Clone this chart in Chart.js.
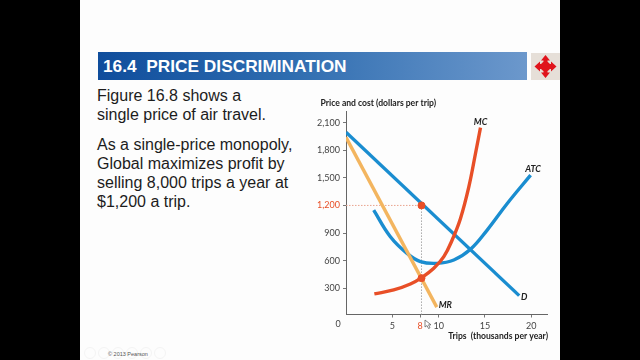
<!DOCTYPE html>
<html><head><meta charset="utf-8">
<script src="https://cdn.jsdelivr.net/npm/chart.js@4"></script>
<style>
html,body{margin:0;padding:0;background:#000;width:640px;height:360px;overflow:hidden}
#slide{position:absolute;left:80px;top:0;width:480px;height:360px;background:#fdfdfd}
#bar{position:absolute;left:98px;top:52px;width:429px;height:28px;background:linear-gradient(90deg,#0f4d9c 0%,#2f6db0 45%,#6c98cc 100%);color:#fff;font:bold 17.3px "Liberation Sans",Arial,sans-serif;line-height:29px;text-indent:5px}
.t{position:absolute;left:97px;font:16px/19px "Liberation Sans",Arial,sans-serif;color:#1c1c1c;white-space:pre}
#foot{position:absolute;left:108px;top:351px;font:5.5px "Liberation Sans",Arial,sans-serif;color:#555}
canvas{position:absolute;left:0;top:0}
svg{position:absolute}
</style></head>
<body>
<div id="slide"></div>
<svg style="left:84px;top:344px" width="90" height="16" viewBox="0 0 90 16" fill="none" stroke="#f4f4f4">
<circle cx="6" cy="9" r="5.500"/><circle cx="20" cy="9" r="5.500"/><circle cx="34" cy="9" r="5.500"/><circle cx="48" cy="9" r="5.500"/><circle cx="62" cy="9" r="5.500"/><circle cx="76" cy="9" r="5.500"/>
</svg>
<div id="bar">16.4&nbsp; PRICE DISCRIMINATION</div>
<div class="t" style="top:86px">Figure 16.8 shows a
single price of air travel.</div>
<div class="t" style="top:135px">As a single-price monopoly,
Global maximizes profit by
selling 8,000 trips a year at
$1,200 a trip.</div>
<div id="foot">© 2013 Pearson</div>
<svg style="left:531px;top:53px" width="29" height="27" viewBox="0 0 29 27">
<rect width="29" height="27" fill="#e6dfd8"/>
<circle cx="14.500" cy="13.500" r="5" fill="#e0141c"/>
<path d="M14.500 2l4.500 5.500h-2.500v3.500h3.500V8.500l5.500 5-5.500 5V16h-3.500v3.500H19L14.500 25 10 19.500h2.500V16H9v2.500l-5.500-5L9 8.500V11h3.500V7.500H10z" fill="#e0141c"/>
</svg>
<canvas id="c" width="640" height="360"></canvas>
<svg style="left:424px;top:319px" width="8" height="10" viewBox="0 0 8 10"><path d="M1 1v7l2-1.500 1.500 3 1.500-.7-1.500-3H7z" fill="#fff" stroke="#666" stroke-width=".8"/></svg>
<script>
const xTicks=[5,8,10,15,20];
const yTicks=[300,600,900,1200,1500,1800,2100];
const demandX=[0,18.7];
const demandY=[1995,220];
const mrX=[0,9.8];
const mrY=[1940,95];
const mcX=[3.06,5.15,6.95,8.18,9.48,10.56,11.46,12.36,13.26,13.98,14.52];
const mcY=[239,282,347,416,517,643,824,1059,1402,1764,2046];
const atcX=[2.99,4.79,6.59,8.04,9.84,11.64,13.44,15.24,17.41,19.93];
const atcY=[1149,860,679,589,571,607,723,932,1221,1529];
const qty=8.15, price=1200, mcAtQty=410;
const BLUE='#1a8dd0',RED='#e84f27',GOLD='#f3b55f';
const zip=(a,b)=>a.map((x,i)=>({x,y:b[i]}));
const line=(data,color,extra)=>Object.assign({data,borderColor:color,borderWidth:3.4,pointRadius:0,showLine:true,fill:false},extra||{});
const labels={
 id:'labels',
 afterDraw(ch){
  const c=ch.ctx,X=ch.scales.x;
  c.save();c.textBaseline='middle';
  c.fillStyle='#222';c.font='bold 8.6px Lato';
  c.textAlign='left';c.fillText('Price and cost (dollars per trip)',320.500,103.500);
  c.textAlign='right';c.fillText('Trips  (thousands per year)',548,336.500);
  c.font='9px Lato';c.fillStyle='#444';c.textAlign='center';
  c.fillText('0',X.getPixelForValue(0)-8,324);
  c.font='italic bold 9px Lato';c.fillStyle='#222';c.textAlign='left';
  c.fillText('MC',X.getPixelForValue(13.8),122.500);
  c.fillText('ATC',X.getPixelForValue(19.35),169);
  c.fillText('D',X.getPixelForValue(18.9),297.500);
  c.fillText('MR',X.getPixelForValue(10),305.500);
  c.restore();
 }
};
new Chart(document.getElementById('c'),{
 type:'scatter',
 data:{datasets:[
  {data:[{x:qty,y:price},{x:qty,y:mcAtQty}],backgroundColor:RED,borderColor:RED,pointRadius:3.500,order:0},
  line(zip(mcX,mcY),RED,{tension:0.4,order:1}),
  line(zip(demandX,demandY),BLUE,{order:2}),
  line(zip(mrX,mrY),GOLD,{order:3}),
  line(zip(atcX,atcY),BLUE,{tension:0.4,order:4}),
  line([{x:0,y:price},{x:qty,y:price}],'#e9a48e',{borderWidth:1,borderDash:[1.500,1.500],order:5}),
  line([{x:qty,y:price},{x:qty,y:0}],'#a9a9a9',{borderWidth:1,borderDash:[1.500,1.500],order:5})
 ]},
 options:{
  responsive:false,animation:false,
  layout:{padding:{left:316,right:93,top:111,bottom:15.500}},
  plugins:{legend:{display:false},tooltip:{enabled:false}},
  scales:{
   x:{type:'linear',min:0,max:21.7,
    afterBuildTicks:s=>{s.ticks=xTicks.map(v=>({value:v}))},
    afterFit:s=>{s.height=30},
    grid:{drawOnChartArea:false,tickLength:3,tickColor:'#777'},
    border:{color:'#666',width:1},
    ticks:{autoSkip:false,maxRotation:0,padding:3,font:{family:'Lato',size:9},
     color:c=>c.tick.value===8?RED:'#444',callback:v=>String(v)}},
   y:{type:'linear',min:15,max:2226,
    afterBuildTicks:s=>{s.ticks=yTicks.map(v=>({value:v}))},
    afterFit:s=>{s.width=30},
    grid:{drawOnChartArea:false,tickLength:3,tickColor:'#777'},
    border:{color:'#666',width:1},
    ticks:{autoSkip:false,padding:3,font:{family:'Lato',size:9},
     color:c=>c.tick.value===1200?RED:'#444',
     callback:v=>v>=1000?String(v).replace(/(\d)(\d{3})$/,'$1,$2'):String(v)}}
  }
 },
 plugins:[labels]
});
</script>
</body></html>
